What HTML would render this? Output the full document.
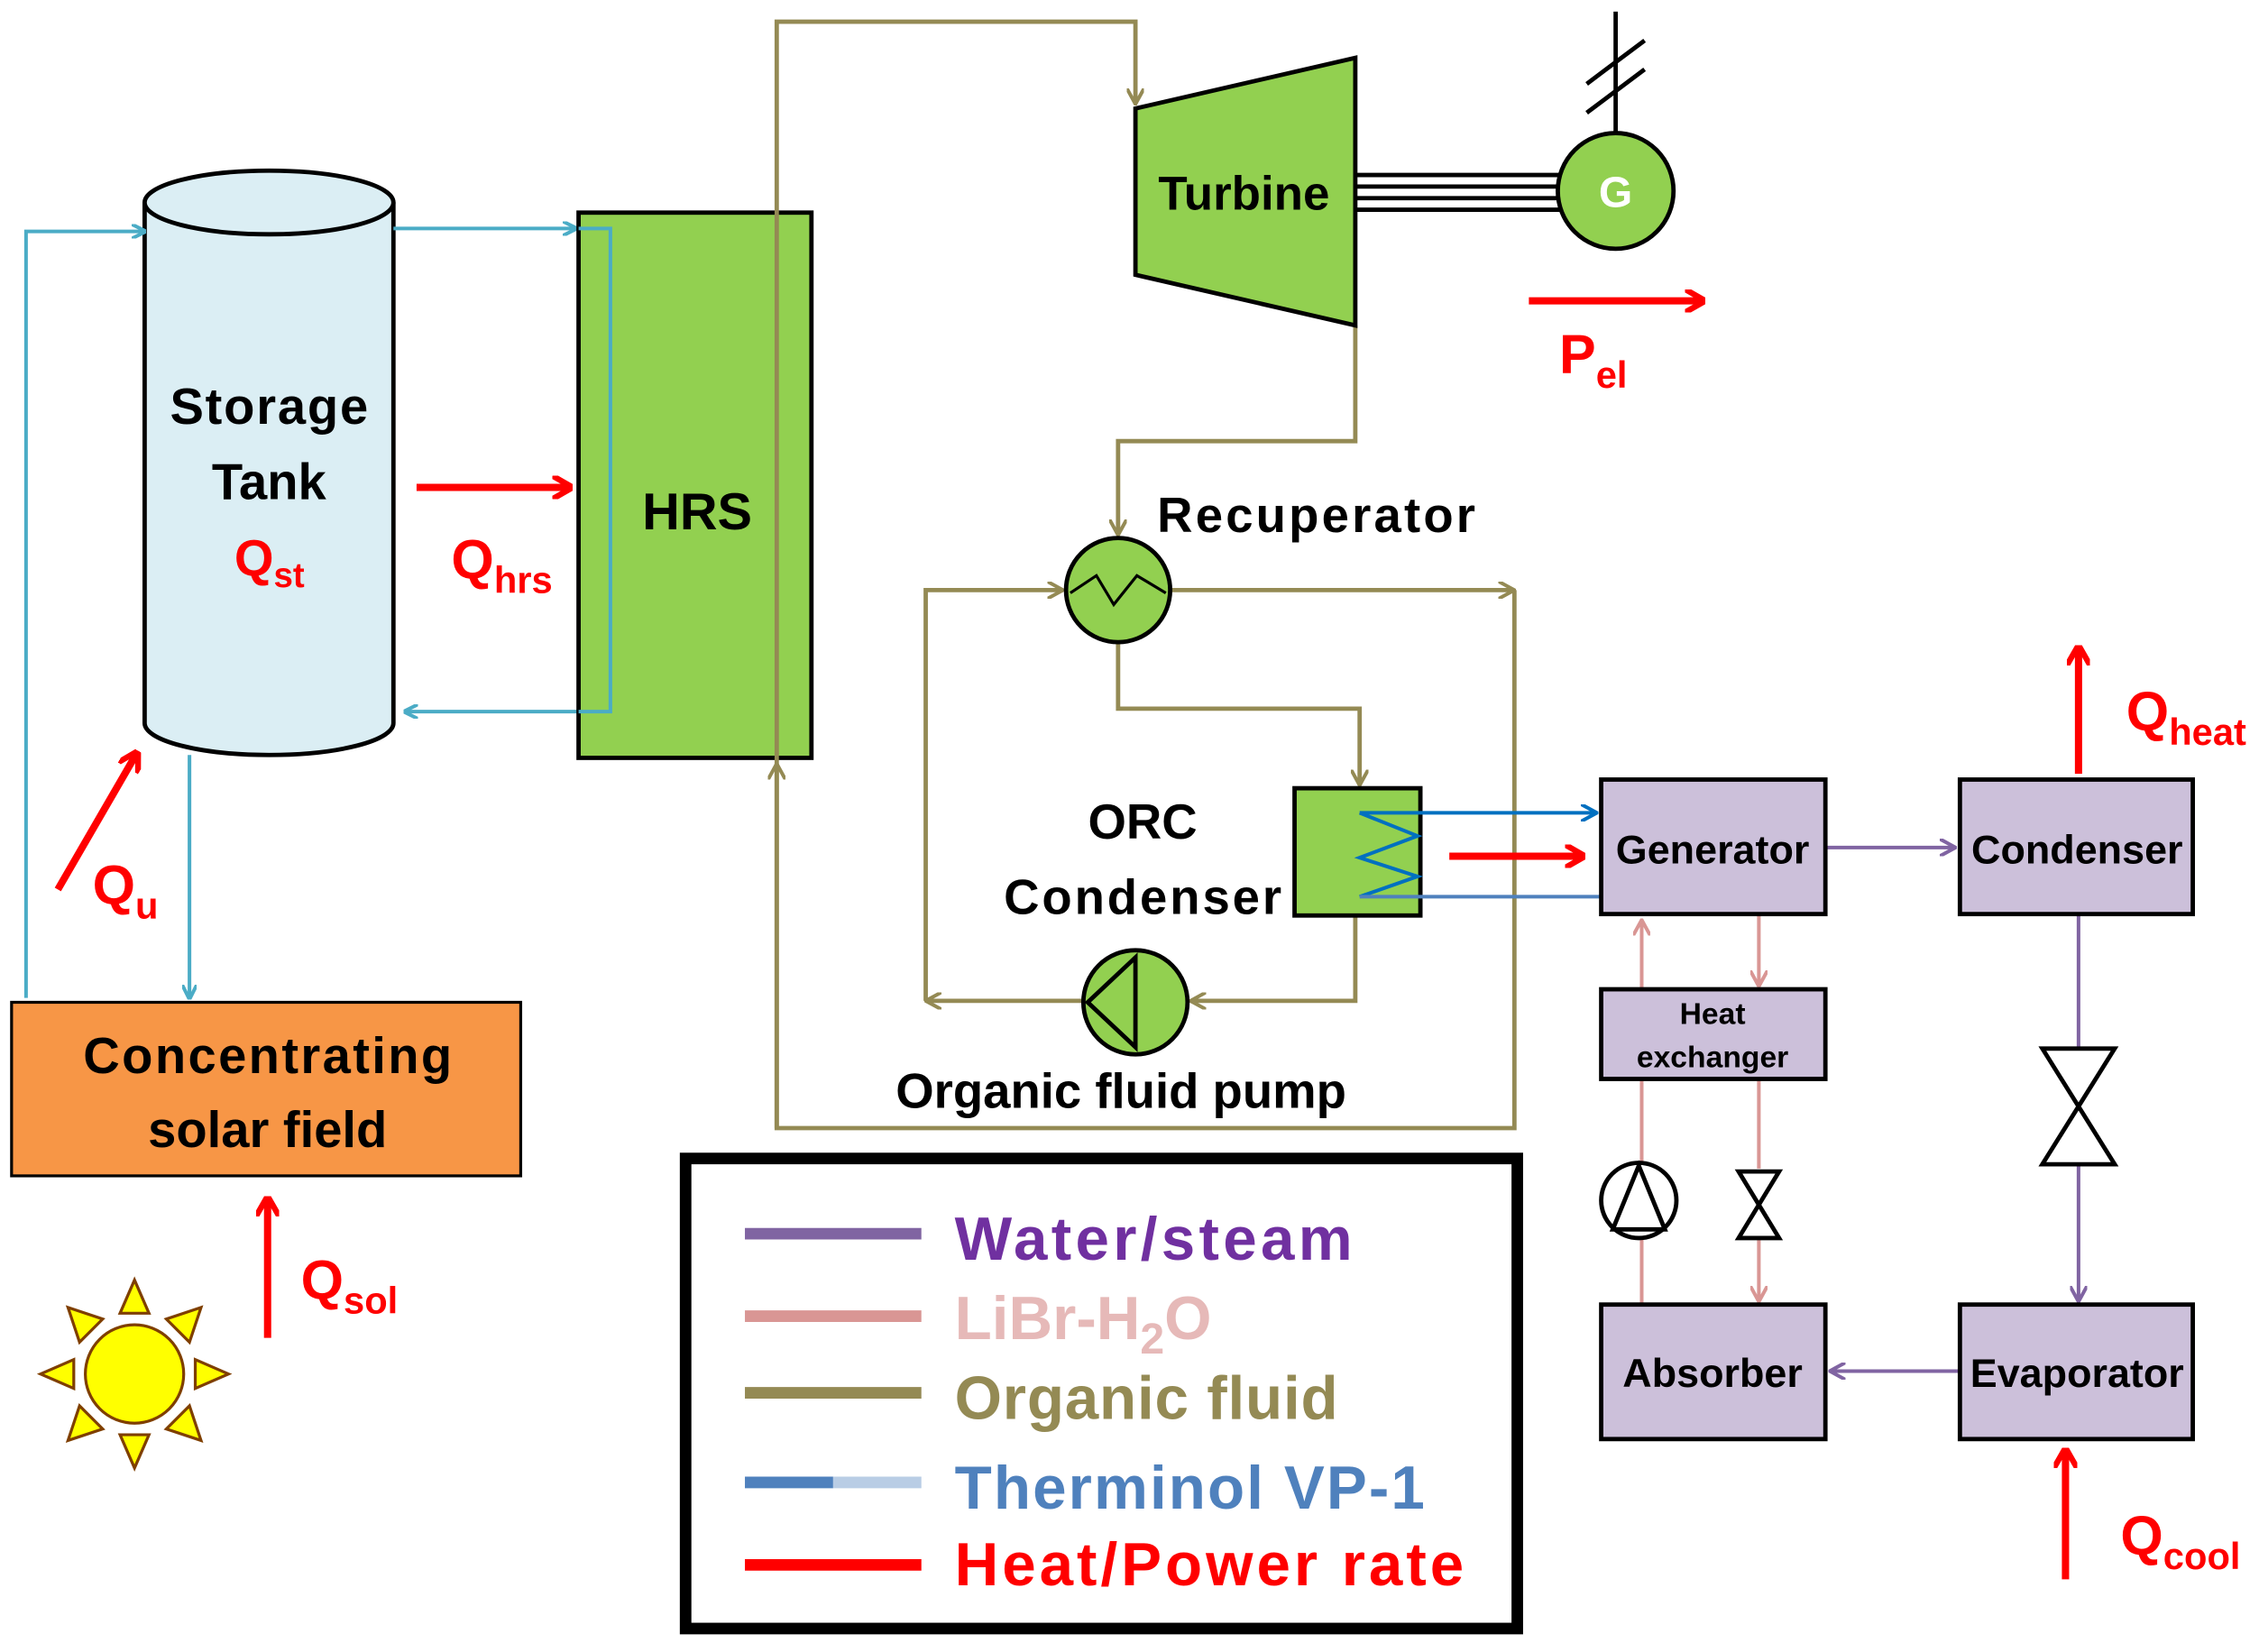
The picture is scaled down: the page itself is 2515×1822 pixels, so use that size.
<!DOCTYPE html>
<html><head><meta charset="utf-8">
<style>
html,body{margin:0;padding:0;background:#fff;}
svg{display:block;}
text{font-family:"Liberation Sans",sans-serif;font-weight:bold;}
</style></head>
<body>
<svg width="2515" height="1822" viewBox="0 0 1568 1136" preserveAspectRatio="none" xmlns="http://www.w3.org/2000/svg">
<defs>
<marker id="ab" markerWidth="10" markerHeight="10" refX="9" refY="5" orient="auto" markerUnits="userSpaceOnUse"><path d="M0,0 L10,5 L0,10" fill="none" stroke="#4bacc6" stroke-width="2.5"/></marker>
<marker id="ao" markerWidth="12" markerHeight="12" refX="11" refY="6" orient="auto" markerUnits="userSpaceOnUse"><path d="M0,0 L11,6 L0,12" fill="none" stroke="#948a54" stroke-width="2.5"/></marker>
<marker id="ap" markerWidth="12" markerHeight="12" refX="11" refY="6" orient="auto" markerUnits="userSpaceOnUse"><path d="M0,0 L11,6 L0,12" fill="none" stroke="#8064a2" stroke-width="2.5"/></marker>
<marker id="ak" markerWidth="12" markerHeight="12" refX="11" refY="6" orient="auto" markerUnits="userSpaceOnUse"><path d="M0,0 L11,6 L0,12" fill="none" stroke="#d99694" stroke-width="2.5"/></marker>
<marker id="abl" markerWidth="12" markerHeight="12" refX="11" refY="6" orient="auto" markerUnits="userSpaceOnUse"><path d="M0,0 L11,6 L0,12" fill="none" stroke="#0070c0" stroke-width="2.5"/></marker>
<marker id="ar" markerWidth="14" markerHeight="16" refX="13" refY="8" orient="auto" markerUnits="userSpaceOnUse"><path d="M0,0 L14,8 L0,16" fill="none" stroke="#ff0000" stroke-width="4"/></marker>
</defs>

<path d="M100,140 L100,500 A86,22 0 0 0 272,500 L272,140" fill="#dbeef4" stroke="#000" stroke-width="3"/>
<ellipse cx="186" cy="140" rx="86" ry="22" fill="#dbeef4" stroke="#000" stroke-width="3"/>
<text x="186" y="293" font-size="35" text-anchor="middle" textLength="137">Storage</text>
<text x="186" y="345" font-size="35" text-anchor="middle">Tank</text>
<text x="162" y="398" font-size="35" fill="#ff0000">Q<tspan font-size="24" dy="8">st</tspan></text>

<g fill="none" stroke="#4bacc6" stroke-width="2.5">
<path d="M18,690 L18,160 L100,160" marker-end="url(#ab)"/>
<path d="M272,158 L398,158" marker-end="url(#ab)"/>
<path d="M400,158 L422,158 L422,492 L280,492" marker-end="url(#ab)"/>
<path d="M131,522 L131,690" marker-end="url(#ab)"/>
</g>

<rect x="400" y="147" width="161" height="377" fill="#92d050" stroke="#000" stroke-width="3"/>
<path d="M400,158 L422,158 L422,492 L400,492" fill="none" stroke="#4bacc6" stroke-width="2.5"/>
<text x="482" y="366" font-size="36" text-anchor="middle">HRS</text>

<line x1="288" y1="337" x2="395" y2="337" stroke="#ff0000" stroke-width="5" marker-end="url(#ar)"/>
<text x="312" y="400" font-size="38" fill="#ff0000">Q<tspan font-size="26" dy="10">hrs</tspan></text>

<line x1="40" y1="615" x2="95" y2="520" stroke="#ff0000" stroke-width="5" marker-end="url(#ar)"/>
<text x="64" y="625" font-size="38" fill="#ff0000">Q<tspan font-size="26" dy="10">u</tspan></text>

<rect x="8" y="693" width="352" height="120" fill="#f79646" stroke="#000" stroke-width="2"/>
<text x="185" y="742" font-size="35" text-anchor="middle" textLength="255">Concentrating</text>
<text x="185" y="793" font-size="35" text-anchor="middle">solar field</text>

<line x1="185" y1="925" x2="185" y2="828" stroke="#ff0000" stroke-width="5" marker-end="url(#ar)"/>
<text x="208" y="898" font-size="38" fill="#ff0000">Q<tspan font-size="26" dy="10">sol</tspan></text>

<g fill="#ffff00" stroke="#7f3f00" stroke-width="2">
<polygon points="93,885 83,908 103,908"/>
<polygon points="93,1015 83,992 103,992"/>
<polygon points="28,950 51,940 51,960"/>
<polygon points="158,950 135,940 135,960"/>
<polygon points="47,904 55,928 71,912"/>
<polygon points="139,904 131,928 115,912"/>
<polygon points="47,996 55,972 71,988"/>
<polygon points="139,996 131,972 115,988"/>
<circle cx="93" cy="950" r="34"/>
</g>

<g fill="none" stroke="#948a54" stroke-width="3">
<path d="M537,780 L537,15 L785,15 L785,72" marker-end="url(#ao)"/>
<path d="M1047,408 L1047,780 L537,780 L537,528" marker-end="url(#ao)"/>
<path d="M809,408 L1047,408" marker-end="url(#ao)"/>
<path d="M937,225 L937,305 L773,305 L773,370" marker-end="url(#ao)"/>
<path d="M773,444 L773,490 L940,490 L940,543" marker-end="url(#ao)"/>
<path d="M640,692 L640,408 L735,408" marker-end="url(#ao)"/>
<path d="M749,692 L640,692" marker-end="url(#ao)"/>
<path d="M937,633 L937,692 L823,692" marker-end="url(#ao)"/>
</g>

<polygon points="785,75 937,40 937,225 785,190" fill="#92d050" stroke="#000" stroke-width="3"/>
<text x="860" y="145" font-size="33" text-anchor="middle">Turbine</text>
<g stroke="#000" stroke-width="3">
<line x1="937" y1="121" x2="1080" y2="121"/>
<line x1="937" y1="129" x2="1080" y2="129"/>
<line x1="937" y1="137" x2="1080" y2="137"/>
<line x1="937" y1="145" x2="1080" y2="145"/>
<line x1="1117" y1="8" x2="1117" y2="92"/>
<line x1="1097" y1="58" x2="1137" y2="28"/>
<line x1="1097" y1="78" x2="1137" y2="48"/>
</g>
<circle cx="1117" cy="132" r="40" fill="#92d050" stroke="#000" stroke-width="3"/>
<text x="1117" y="143" font-size="30" fill="#fff" text-anchor="middle">G</text>

<line x1="1057" y1="208" x2="1178" y2="208" stroke="#ff0000" stroke-width="5" marker-end="url(#ar)"/>
<text x="1078" y="258" font-size="38" fill="#ff0000">P<tspan font-size="26" dy="10">el</tspan></text>

<circle cx="773" cy="408" r="36" fill="#92d050" stroke="#000" stroke-width="3"/>
<path d="M740,410 L758,398 L770,418 L786,398 L806,410" fill="none" stroke="#000" stroke-width="2"/>
<text x="800" y="368" font-size="34" textLength="220">Recuperator</text>

<rect x="895" y="545" width="87" height="88" fill="#92d050" stroke="#000" stroke-width="3"/>
<path d="M940,562 L980,578 L940,593 L980,606 L940,620" fill="none" stroke="#0070c0" stroke-width="2.5"/>
<line x1="940" y1="562" x2="1104" y2="562" stroke="#0070c0" stroke-width="2.5" marker-end="url(#abl)"/>
<line x1="940" y1="620" x2="1107" y2="620" stroke="#4f81bd" stroke-width="2.5"/>
<text x="790" y="580" font-size="34" text-anchor="middle">ORC</text>
<text x="790" y="632" font-size="34" text-anchor="middle" textLength="192">Condenser</text>
<line x1="1002" y1="592" x2="1095" y2="592" stroke="#ff0000" stroke-width="5" marker-end="url(#ar)"/>

<circle cx="785" cy="693" r="36" fill="#92d050" stroke="#000" stroke-width="3"/>
<polygon points="752,693 785,662 785,724" fill="none" stroke="#000" stroke-width="3"/>
<text x="775" y="766" font-size="34" text-anchor="middle">Organic fluid pump</text>

<g fill="none" stroke="#8064a2" stroke-width="2.5">
<path d="M1262,586 L1352,586" marker-end="url(#ap)"/>
<path d="M1437,632 L1437,725"/>
<path d="M1437,805 L1437,900" marker-end="url(#ap)"/>
<path d="M1355,948 L1265,948" marker-end="url(#ap)"/>
</g>
<polygon points="1412,725 1462,725 1412,805 1462,805" fill="#fff" stroke="#000" stroke-width="3"/>
<g fill="none" stroke="#d99694" stroke-width="2.5">
<path d="M1135,902 L1135,856"/>
<path d="M1135,804 L1135,746"/>
<path d="M1135,684 L1135,636" marker-end="url(#ak)"/>
<path d="M1216,632 L1216,682" marker-end="url(#ak)"/>
<path d="M1216,746 L1216,808"/>
<path d="M1216,856 L1216,900" marker-end="url(#ak)"/>
</g>
<circle cx="1133" cy="830" r="26" fill="#fff" stroke="#000" stroke-width="3"/>
<polygon points="1133,806 1115,850 1151,850" fill="none" stroke="#000" stroke-width="3"/>
<polygon points="1202,810 1230,810 1202,856 1230,856" fill="#fff" stroke="#000" stroke-width="3"/>

<g fill="#ccc0da" stroke="#000" stroke-width="3">
<rect x="1107" y="539" width="155" height="93"/>
<rect x="1355" y="539" width="161" height="93"/>
<rect x="1107" y="684" width="155" height="62"/>
<rect x="1107" y="902" width="155" height="93"/>
<rect x="1355" y="902" width="161" height="93"/>
</g>
<text x="1184" y="597" font-size="28" text-anchor="middle">Generator</text>
<text x="1436" y="597" font-size="28" text-anchor="middle">Condenser</text>
<text x="1184" y="708" font-size="21" text-anchor="middle">Heat</text>
<text x="1184" y="738" font-size="21" text-anchor="middle">exchanger</text>
<text x="1184" y="959" font-size="28" text-anchor="middle">Absorber</text>
<text x="1436" y="959" font-size="28" text-anchor="middle">Evaporator</text>

<line x1="1437" y1="535" x2="1437" y2="447" stroke="#ff0000" stroke-width="5" marker-end="url(#ar)"/>
<text x="1470" y="505" font-size="38" fill="#ff0000">Q<tspan font-size="26" dy="10">heat</tspan></text>
<line x1="1428" y1="1092" x2="1428" y2="1002" stroke="#ff0000" stroke-width="5" marker-end="url(#ar)"/>
<text x="1466" y="1075" font-size="38" fill="#ff0000">Q<tspan font-size="26" dy="10">cool</tspan></text>

<rect x="474" y="801" width="575" height="325" fill="#fff" stroke="#000" stroke-width="8"/>
<line x1="515" y1="853" x2="637" y2="853" stroke="#8064a2" stroke-width="8"/>
<line x1="515" y1="910" x2="637" y2="910" stroke="#d99694" stroke-width="8"/>
<line x1="515" y1="963" x2="637" y2="963" stroke="#948a54" stroke-width="8"/>
<line x1="515" y1="1025" x2="576" y2="1025" stroke="#4f81bd" stroke-width="8"/>
<line x1="576" y1="1025" x2="637" y2="1025" stroke="#b9cde5" stroke-width="8"/>
<line x1="515" y1="1082" x2="637" y2="1082" stroke="#ff0000" stroke-width="8"/>
<text x="660" y="871" font-size="42" fill="#7030a0" textLength="275">Water/steam</text>
<text x="660" y="926" font-size="42" fill="#e6b9b8">LiBr-H<tspan font-size="30" dy="10">2</tspan><tspan dy="-10">O</tspan></text>
<text x="660" y="981" font-size="42" fill="#948a54" textLength="265">Organic fluid</text>
<text x="660" y="1043" font-size="42" fill="#4f81bd" textLength="325">Therminol VP-1</text>
<text x="660" y="1096" font-size="42" fill="#ff0000" textLength="352">Heat/Power rate</text>
</svg>
</body></html>
